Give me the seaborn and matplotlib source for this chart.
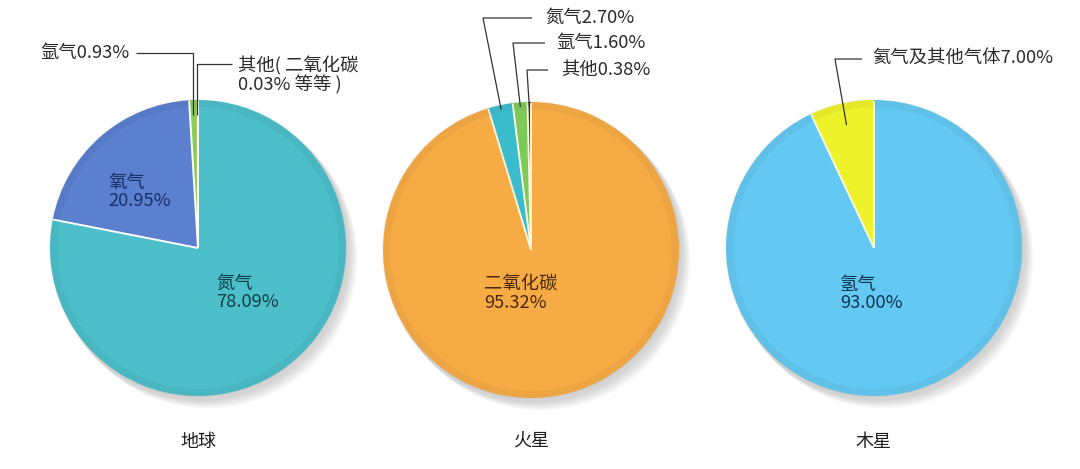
import numpy as np
import seaborn as sns
import matplotlib.pyplot as plt
from matplotlib.patches import Circle

# 数据
planet_names = ["地球", "火星", "木星"]

earth_labels = ["其他", "氩气", "氧气", "氮气"]
earth_values = [0.03, 0.93, 20.95, 78.09]

mars_labels = ["其他", "氩气", "氮气", "二氧化碳"]
mars_values = [0.38, 1.60, 2.70, 95.32]

jupiter_labels = ["氦气及其他气体", "氢气"]
jupiter_values = [7.00, 93.00]

earth_colors = ["#cfe8a6", "#8ccb58", "#5b80cf", "#4cbfca"]
mars_colors = ["#2e3a26", "#7dc95a", "#3bbccc", "#f7ab45"]
jupiter_colors = ["#eef22a", "#63c8f2"]

H = 469
R = 148


def P(px, py):
    # 图像像素坐标 -> 数据坐标 (y 向上)
    return px, H - py


def anchor(values, idx, center, frac):
    cum = np.cumsum([0] + list(values))
    mid = 90 + (cum[idx] + values[idx] / 2) / cum[-1] * 360
    a = np.deg2rad(mid)
    return center[0] + frac * R * np.cos(a), center[1] + frac * R * np.sin(a)


def leader(ax, pts):
    xs = [p[0] for p in pts]
    ys = [p[1] for p in pts]
    ax.plot(xs, ys, color="#333333", lw=0.9, zorder=5, solid_capstyle="butt")


def draw_pie(ax, values, colors, center, edge="white"):
    for i in range(9):
        ax.add_patch(Circle((center[0] + 2 + i * 1.0, center[1] - 3 - i * 1.0), R + 1.5,
                            color="#707070", alpha=0.035, lw=0, zorder=0))
    ax.pie(values, colors=colors, startangle=90, counterclock=True,
           center=center, radius=R, frame=True,
           wedgeprops=dict(edgecolor="none", linewidth=0, zorder=2))
    # 扇区分隔线 (只画半径方向)
    cum = np.cumsum([0] + list(values))
    for c in cum[:-1]:
        a = np.deg2rad(90 + c / cum[-1] * 360)
        ax.plot([center[0], center[0] + (R - 0.5) * np.cos(a)],
                [center[1], center[1] + (R - 0.5) * np.sin(a)],
                color=edge, lw=1.4, zorder=3, solid_capstyle="butt")
    # 边缘暗化, 模拟立体感
    ax.add_patch(Circle(center, R - 3, fill=False, ec="#000000", lw=6, alpha=0.04, zorder=3))


sns.set_theme(style="white")
plt.rcParams['font.family'] = ['Noto Sans CJK SC', 'DejaVu Sans']

fig = plt.figure(figsize=(10.8, 4.69), dpi=100)
ax = fig.add_axes([0, 0, 1, 1])

c_earth = P(198, 248)
c_mars = P(531, 250)
c_jup = P(874, 248)

draw_pie(ax, earth_values, earth_colors, c_earth)
draw_pie(ax, mars_values, mars_colors, c_mars, edge="#fdf6dc")
draw_pie(ax, jupiter_values, jupiter_colors, c_jup, edge="#fbfbe0")

fs = 13.2
tc = "#2a2a2a"

# 地球
a = anchor(earth_values, 1, c_earth, 0.9)
leader(ax, [P(136, 53), (a[0] - 1, H - 53), (a[0] - 1, a[1])])
ax.text(*P(130, 53), f"{earth_labels[1]}{earth_values[1]:.2f}%", ha="right", va="center",
        fontsize=fs, color=tc)
a = anchor(earth_values, 0, c_earth, 0.9)
leader(ax, [P(232, 64), (a[0] - 1, H - 64), (a[0] - 1, a[1])])
ax.text(*P(238, 75), f"{earth_labels[0]}( 二氧化碳\n{earth_values[0]:.2f}% 等等 )",
        ha="left", va="center", fontsize=fs, color=tc, linespacing=1.0)
ax.text(*P(108, 192), f"{earth_labels[2]}\n{earth_values[2]:.2f}%", ha="left", va="center",
        fontsize=fs, color="#1b2f66", linespacing=1.0)
ax.text(*P(216, 293), f"{earth_labels[3]}\n{earth_values[3]:.2f}%", ha="left", va="center",
        fontsize=fs, color="#0f3f46", linespacing=1.0)

# 火星
mars_text = [(2, 545, 18, 532, 483), (1, 556, 43, 545, 513), (0, 561, 70, 548, 527)]
for idx, tx, ty, lx, ex in mars_text:
    a = anchor(mars_values, idx, c_mars, 0.97)
    leader(ax, [P(lx, ty), P(ex, ty), a])
    ax.text(*P(tx, ty), f"{mars_labels[idx]}{mars_values[idx]:.2f}%", ha="left", va="center",
            fontsize=fs, color=tc)
ax.text(*P(484, 294), f"{mars_labels[3]}\n{mars_values[3]:.2f}%", ha="left", va="center",
        fontsize=fs, color="#4a2a0e", linespacing=1.0)

# 木星
a = anchor(jupiter_values, 0, c_jup, 0.85)
leader(ax, [P(862, 59), P(835, 59), a])
ax.text(*P(872, 58), f"{jupiter_labels[0]}{jupiter_values[0]:.2f}%", ha="left", va="center",
        fontsize=fs, color=tc)
ax.text(*P(840, 294), f"{jupiter_labels[1]}\n{jupiter_values[1]:.2f}%", ha="left", va="center",
        fontsize=fs, color="#0f3550", linespacing=1.0)

# 行星名称
for name, c in zip(planet_names, [c_earth, c_mars, c_jup]):
    ax.text(c[0], H - 442, name, ha="center", va="center", fontsize=13, color="#1e1e1e")

ax.set_xlim(0, 1080)
ax.set_ylim(0, H)
ax.set_aspect("equal")
ax.axis("off")

fig.savefig("out.png", dpi=100, facecolor="white")
